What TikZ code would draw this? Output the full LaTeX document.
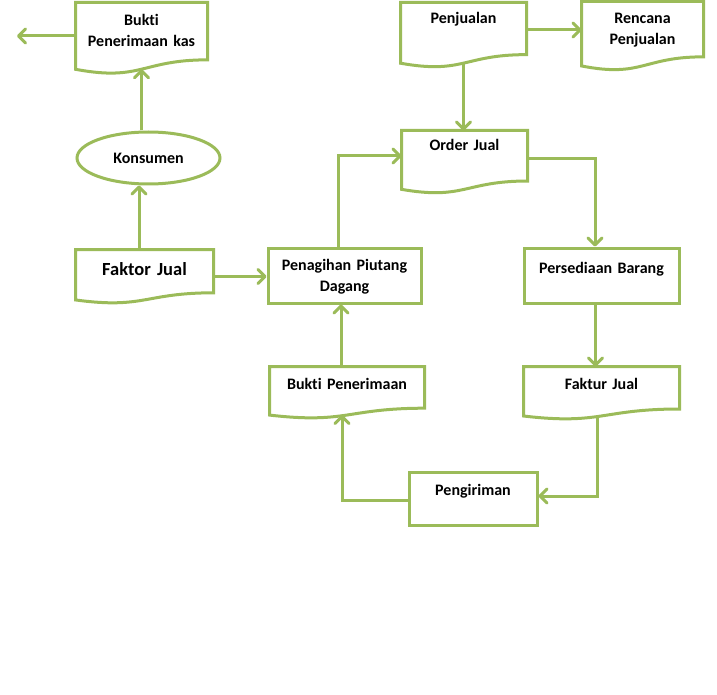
\documentclass[tikz,border=0pt]{standalone}
\usepackage{fontspec}
\setmainfont[Ligatures=NoCommon]{Carlito}
\usepackage{xcolor}
\usepackage{tikz}
\usetikzlibrary{arrows, arrows.meta, positioning, calc, shapes.geometric}

\definecolor{flowgreen}{RGB}{155,187,89}

\tikzset{
	box/.style={draw=flowgreen, line width=3pt, rectangle, inner sep=0pt, align=center, font=\fontsize{16}{21}\selectfont\bfseries},
	docbox/.style={box, draw=none},
	arr/.style={draw=flowgreen, line width=3pt, -{Straight Barb[length=7pt,width=14pt,round]}},
}

\newcommand{\docline}[1]{%
	\draw [flowgreen, line width=3pt] (#1.north west) -- (#1.north east) -- ($(#1.north east)!0.802!(#1.south east)$) .. controls ($(#1.north)!0.802!(#1.south)$) and ($(#1.north)!1.1075!(#1.south)$) .. ($(#1.north west)!0.934!(#1.south west)$) -- cycle;
	\coordinate (#1-b) at ($(#1.north)!0.933!(#1.south)$);
}

\begin{document}
\begin{tikzpicture}[x=1pt, y=-1pt]
			\useasboundingbox (0,0) rectangle (717,695);
			\node [docbox, text width=129pt, text height=22pt, text depth=46.5pt] (kas) at (141.5,38.25) {Bukti\\Penerimaan kas};
			\node [docbox, text width=123pt, text height=20pt, text depth=42pt] (penj) at (463.5,35) {Penjualan};
			\node [docbox, text width=119pt, text height=21pt, text depth=45pt] (renc) at (642.5,36) {Rencana\\Penjualan};
			\node [docbox, text width=123pt, text height=19pt, text depth=41pt] (ord) at (464.5,162) {Order Jual};
			\node [box, ellipse, minimum width=143pt, minimum height=52pt] (kon) at (148.5,158) {Konsumen};
			\node [docbox, text width=135pt, text height=24pt, text depth=27pt, font=\fontsize{18.5}{22}\selectfont\bfseries] (fak) at (144.5,276.5) {Faktor Jual};
			\node [box, text width=153pt, text height=22pt, text depth=33pt] (pen) at (344.5,275.5) {Penagihan Piutang\\Dagang};
			\node [box, text width=155pt, text height=25pt, text depth=30pt] (pers) at (601.5,275.5) {Persediaan Barang};
			\node [docbox, text width=152pt, text height=21pt, text depth=28pt] (bp) at (347,392.5) {Bukti Penerimaan};
			\node [docbox, text width=153pt, text height=21pt, text depth=29pt] (fkt) at (601.5,393) {Faktur Jual};
			\node [box, text width=128pt, text height=23pt, text depth=30pt] (peng) at (473,498.5) {Pengiriman};
			\docline{kas}
			\docline{penj}
			\docline{renc}
			\docline{ord}
			\docline{fak}
			\docline{bp}
			\docline{fkt}
			\coordinate (exit) at (17,36);
			\draw [arr] (kas.west |- exit) -- (exit);
			\draw [arr] (kas-b |- kon.north) -- (kas-b);
			\draw [arr] ([xshift=-5.5pt]fak.north) -- ([xshift=-5.5pt]fak.north |- kon.south);
			\draw [arr] (fak.east) -- (pen.west |- fak.east);
			\draw [arr] ([xshift=-6.5pt]pen.north) |- ([yshift=6pt]ord.west);
			\draw [arr] (penj-b) -- (penj-b |- ord.north);
			\draw [arr] ([yshift=5pt]penj.east) -- ([yshift=5pt]penj.east -| renc.west);
			\draw [arr] ([yshift=3pt]ord.east) -| ([xshift=-6.5pt]pers.north);
			\draw [arr] ([xshift=-6pt]pers.south) -- ([xshift=-6pt]fkt.north);
			\draw [arr] ([xshift=-4.5pt]fkt-b) |- ([yshift=2.5pt]peng.east);
			\draw [arr] ([yshift=-1.5pt]peng.west) -| ([xshift=-5pt]bp-b);
			\draw [arr] ([xshift=-6pt]bp.north) -- ([xshift=-6pt]bp.north |- pen.south);
		\end{tikzpicture}
\end{document}
